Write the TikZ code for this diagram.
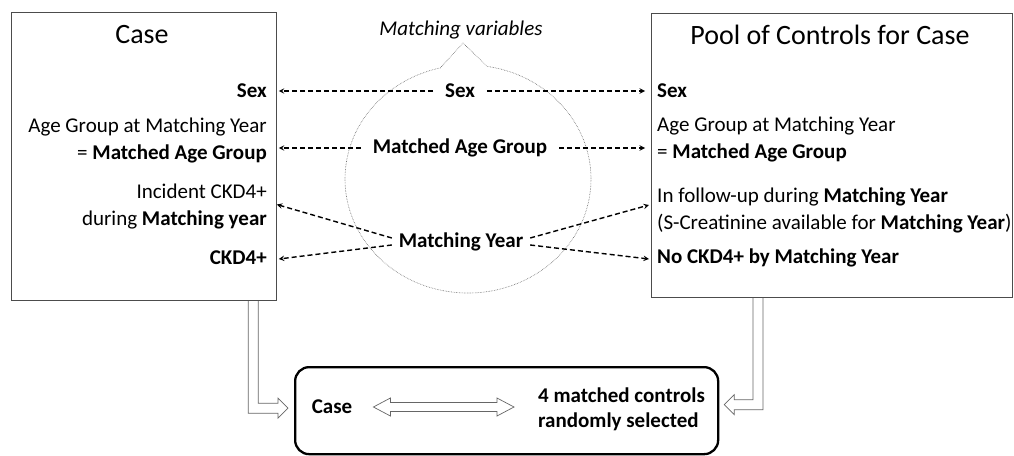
\documentclass[tikz,border=0pt]{standalone}
\usepackage{fontspec}
\setmainfont{Carlito}
\usetikzlibrary{calc, positioning, arrows}

\begin{document}
\begin{tikzpicture}[
    x=1pt, y=-1pt, >=stealth,
    every node/.style={font=\fontsize{21}{27}\selectfont, inner sep=0pt},
    box/.style={draw=black!70, line width=0.8pt, anchor=north west},
    heading/.style={font=\fontsize{28}{34}\selectfont},
    casetext/.style={anchor=east, align=right},
    pooltext/.style={anchor=west, align=left},
    match/.style={font=\fontsize{21}{27}\selectfont\bfseries, outer sep=12pt},
    link/.style={->, line width=1.4pt, dash pattern=on 5pt off 3pt},
    hollow/.style={draw=black!60, line width=0.7pt},
    bubble/.style={draw=black!60, densely dotted, line width=0.6pt}
]
    \useasboundingbox (0,0) rectangle (1014,455);

    % the two boxes
    \node[box, minimum width=265pt, minimum height=288pt] (casebox) at (11,12) {};
    \node[box, minimum width=361pt, minimum height=284pt] (poolbox) at (651,13) {};
    \node[heading] (casetitle) at (142,35) {Case};
    \node[heading] (pooltitle) at (830,35) {Pool of Controls for Case};

    % matching variables bubble
    \coordinate (bc) at (468,179);
    \coordinate (btip) at (463,43);
    \draw[bubble] ($(bc)+(257:123 and 114)$) -- (btip) -- ($(bc)+(279:123 and 114)$)
        arc[start angle=279, end angle=617, x radius=123, y radius=114];
    \node[font=\fontsize{21}{27}\selectfont\itshape] (mvar) at (461,30) {Matching variables};

    % case side
    \node[casetext] (lsex) at (267,91) {\textbf{Sex}};
    \node[casetext] (lage) at (267,140.5) {Age Group at Matching Year\\= \textbf{Matched Age Group}};
    \node[casetext] (lincident) at (267,206.5) {Incident CKD4+\\during \textbf{Matching year}};
    \node[casetext] (lckd) at (267,258) {\textbf{CKD4+}};

    % control side
    \node[pooltext] (rsex) at (657,91) {\textbf{Sex}};
    \node[pooltext] (rage) at (657,139) {Age Group at Matching Year\\= \textbf{Matched Age Group}};
    \node[pooltext] (rfollow) at (657,210) {In follow-up during \textbf{Matching Year}\\(S-Creatinine available for \textbf{Matching Year})};
    \node[pooltext] (rnockd) at (657,258) {\textbf{No CKD4+ by Matching Year}};

    % variables in the middle
    \node[match] (msex) at (460,91) {Sex};
    \node[match] (mage) at (460,148) {Matched Age Group};
    \node[match, outer sep=7pt] (myear) at (461,242) {Matching Year};

    \path[link] (msex) edge ($(lsex -| casebox.east)+(2,0)$)
                (msex) edge ($(rsex -| poolbox.west)+(-6,0)$)
                (mage) edge ($(mage -| casebox.east)+(2,0)$)
                (mage) edge ($(mage -| poolbox.west)+(-6,0)$)
                ([yshift=4pt]myear.west) edge ($(lincident -| casebox.east)+(0,-2)$)
                ([yshift=-3pt]myear.west) edge ($(lckd -| casebox.east)+(2,1)$)
                ([yshift=4pt]myear.east) edge ($(rfollow -| poolbox.west)+(-2,-5)$)
                ([yshift=-3pt]myear.east) edge ($(rnockd -| poolbox.west)+(-2,1)$);

    % result box
    \node[draw, line width=2.3pt, rounded corners=14pt, minimum width=423pt, minimum height=87pt,
          anchor=north west] (result) at (294,366) {};
    \node[font=\fontsize{21}{27}\selectfont\bfseries] (rcase) at (332,407) {Case};
    \node[pooltext, font=\fontsize{21}{25}\selectfont\bfseries] (rctrl) at (538,409.5) {4 matched controls\\randomly selected};

    % hollow arrows
    \draw[hollow] let \p1=($(casebox.south east)+(-23.5,0)$), \p2=($(result.west)+(-6,-2.5)$) in
        (\x1-5pt,\y1) -- (\x1-5pt,\y2-5pt) -- (\x2-10pt,\y2-5pt) -- (\x2-10pt,\y2-10pt) -- (\x2,\y2)
        -- (\x2-10pt,\y2+10pt) -- (\x2-10pt,\y2+5pt) -- (\x1+5pt,\y2+5pt) -- (\x1+5pt,\y1);
    \draw[hollow] let \p1=($(poolbox.south west)+(107,0)$), \p2=($(result.east)+(5,-6)$) in
        (\x1+5pt,\y1) -- (\x1+5pt,\y2-5pt) -- (\x2+10pt,\y2-5pt) -- (\x2+10pt,\y2-10pt) -- (\x2,\y2)
        -- (\x2+10pt,\y2+10pt) -- (\x2+10pt,\y2+5pt) -- (\x1-5pt,\y2+5pt) -- (\x1-5pt,\y1);
    \draw[hollow] let \p1=($(rcase.east)+(21,0)$), \p2=($(rctrl.west)+(-24,0)$) in
        (\x1,\y1) -- (\x1+17pt,\y1+9pt) -- (\x1+17pt,\y1+4.5pt) -- (\x2-17pt,\y1+4.5pt)
        -- (\x2-17pt,\y1+9pt) -- (\x2,\y1) -- (\x2-17pt,\y1-9pt) -- (\x2-17pt,\y1-4.5pt)
        -- (\x1+17pt,\y1-4.5pt) -- (\x1+17pt,\y1-9pt) -- cycle;

\end{tikzpicture}
\end{document}
